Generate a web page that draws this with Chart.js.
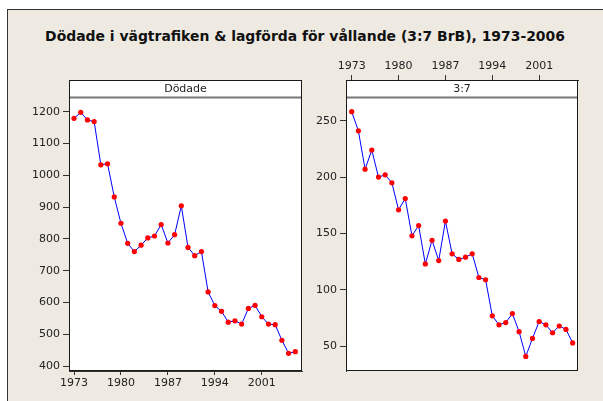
<!DOCTYPE html>
<html>
<head>
<meta charset="utf-8">
<script src="https://cdn.jsdelivr.net/npm/chart.js@4"></script>
<style>
  html, body { margin: 0; padding: 0; background: #fff; }
  body { width: 603px; height: 401px; position: relative; overflow: hidden; }
  #bg { position: absolute; left: 7px; top: 9px; right: -5px; bottom: -5px; background: #eeeae1;
        border-top: 1px solid #333; border-left: 1px solid #333; }
  #title { position: absolute; left: 0; width: 610px; top: 28px; text-align: center; white-space: nowrap;
           font-family: "DejaVu Sans", sans-serif; font-weight: bold; font-size: 13px; color: #111; }
  canvas { position: absolute; top: 0; }
  #left { left: 0; }
  #right { left: 305px; }
</style>
</head>
<body>
<div id="bg"></div>
<div id="title">Dödade i vägtrafiken &amp; lagförda för vållande (3:7 BrB), 1973-2006</div>
<canvas id="left" width="310" height="401"></canvas>
<canvas id="right" width="298" height="401"></canvas>
<script>
const years = [1973, 1974, 1975, 1976, 1977, 1978, 1979, 1980, 1981, 1982, 1983, 1984,
  1985, 1986, 1987, 1988, 1989, 1990, 1991, 1992, 1993, 1994, 1995, 1996, 1997, 1998,
  1999, 2000, 2001, 2002, 2003, 2004, 2005, 2006];
const dodade = [1179, 1198, 1174, 1169, 1033, 1036, 932, 849, 786, 760, 780, 803,
  809, 845, 787, 813, 904, 773, 747, 760, 633, 590, 572, 538, 542, 532,
  581, 591, 555, 532, 530, 481, 440, 445];
const brb = [258, 241, 207, 224, 200, 202, 195, 171, 181, 148, 157, 123,
  144, 126, 161, 132, 127, 129, 132, 111, 109, 77, 69, 71, 79, 63,
  41, 57, 72, 69, 62, 68, 65, 53];
const yearTicks = [1973, 1980, 1987, 1994, 2001];
const dodadeTicks = [400, 500, 600, 700, 800, 900, 1000, 1100, 1200];
const brbTicks = [50, 100, 150, 200, 250];

const tickFont = { family: 'DejaVu Sans', size: 11 };

// stretch the title to the width it has in the original (about 520px)
(function fitTitle() {
  const el = document.getElementById('title');
  const c = document.createElement('canvas').getContext('2d');
  c.font = 'bold 13px "DejaVu Sans"';
  const w = c.measureText(el.textContent).width;
  el.style.fontSize = (13 * 520 / w).toFixed(2) + 'px';
})();

// white plot area, header strip and frame
const panelDecor = {
  id: 'panelDecor',
  beforeDraw(chart) {
    const { ctx, chartArea: a } = chart;
    ctx.save();
    ctx.fillStyle = '#fff';
    ctx.fillRect(a.left, a.top, a.right - a.left, a.bottom - a.top);
    ctx.restore();
  },
  afterDraw(chart, args, opts) {
    const { ctx, chartArea: a } = chart;
    const l = Math.round(a.left) + 0.5, r = Math.round(a.right) - 0.5;
    const t = Math.round(a.top) + 0.5, b = Math.round(a.bottom) - 0.5;
    const sb = t + opts.strip;
    ctx.save();
    ctx.fillStyle = '#fff';
    ctx.fillRect(l, t, r - l, opts.strip);
    ctx.strokeStyle = '#777';
    ctx.lineWidth = 2;
    ctx.beginPath();
    ctx.moveTo(l, sb);
    ctx.lineTo(r, sb);
    ctx.stroke();
    ctx.strokeStyle = '#1a1a1a';
    ctx.lineWidth = 1;
    ctx.strokeRect(l, t, r - l, b - t);
    ctx.fillStyle = '#222';
    ctx.font = '11px "DejaVu Sans"';
    ctx.textAlign = 'center';
    ctx.textBaseline = 'middle';
    ctx.fillText(opts.label, (l + r) / 2, t + opts.strip / 2 + 0.5);
    ctx.restore();
  }
};

function series(vals) {
  return [{
    data: years.map((yr, i) => ({ x: yr, y: vals[i] })),
    borderColor: '#0000ff',
    borderWidth: 1,
    pointBackgroundColor: '#ff0000',
    pointBorderColor: '#ff0000',
    pointBorderWidth: 0,
    pointRadius: 2.6,
    tension: 0
  }];
}

function axisX(pos, min, max, tl, pad) {
  return {
    type: 'linear', position: pos, min: min, max: max,
    afterFit: s => { s.height = 30; },
    afterBuildTicks: s => { s.ticks = yearTicks.map(v => ({ value: v })); },
    grid: { drawOnChartArea: false, tickLength: tl, color: '#333' },
    border: { color: '#333' },
    ticks: { padding: pad, color: '#222', font: tickFont, maxRotation: 0, autoSkip: false,
             callback: v => String(v) }
  };
}

function axisY(min, max, w, list) {
  return {
    min: min, max: max,
    afterFit: s => { s.width = w; },
    afterBuildTicks: s => { s.ticks = list.map(v => ({ value: v })); },
    grid: { drawOnChartArea: false, tickLength: 6, color: '#333' },
    border: { color: '#333' },
    ticks: { padding: 3, color: '#222', font: tickFont, callback: v => String(v) }
  };
}

new Chart(document.getElementById('left'), {
  type: 'line',
  data: { datasets: series(dodade) },
  options: {
    responsive: false,
    animation: false,
    layout: { padding: { left: 0, right: 8, top: 80, bottom: 0 } },
    plugins: {
      legend: { display: false },
      tooltip: { enabled: false },
      panelDecor: { label: 'Dödade', strip: 17 }
    },
    scales: {
      x: axisX('bottom', 1972.25, 2007.0, 4, 2),
      y: axisY(384.3, 1299.7, 69, dodadeTicks)
    }
  },
  plugins: [panelDecor]
});

new Chart(document.getElementById('right'), {
  type: 'line',
  data: { datasets: series(brb) },
  options: {
    responsive: false,
    animation: false,
    layout: { padding: { left: 0, right: 25, top: 50, bottom: 30 } },
    plugins: {
      legend: { display: false },
      tooltip: { enabled: false },
      panelDecor: { label: '3:7', strip: 17 }
    },
    scales: {
      x: axisX('top', 1972.15, 2006.8, 5, 2),
      y: axisY(28.1, 286.1, 41, brbTicks)
    }
  },
  plugins: [panelDecor]
});
</script>
</body>
</html>
